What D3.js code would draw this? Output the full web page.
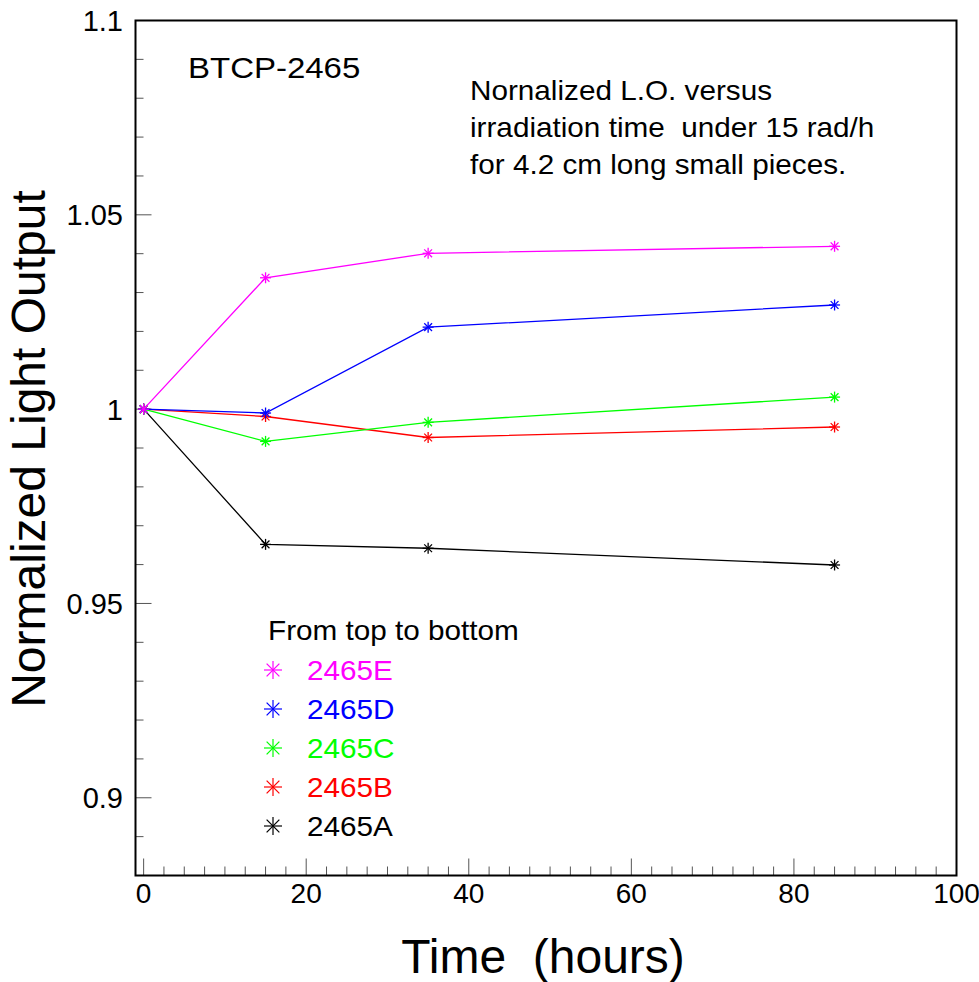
<!DOCTYPE html>
<html>
<head>
<meta charset="utf-8">
<script src="https://cdn.jsdelivr.net/npm/d3@7"></script>
<style>
  html, body { margin: 0; padding: 0; background: #fff; }
  svg { display: block; font-family: "Liberation Sans", Arial, Helvetica, sans-serif; }
  svg text { white-space: pre; }
</style>
</head>
<body>
<svg id="chart" width="979" height="982"></svg>
<script>
// Irradiation times (hours)
const times = [0, 15, 35, 85];

// Normalized light output of each sample
const s2465E = [1.0, 1.0338, 1.0401, 1.0419];
const s2465D = [1.0, 0.9990, 1.0211, 1.0268];
const s2465C = [1.0, 0.9917, 0.9966, 1.0031];
const s2465B = [1.0, 0.9981, 0.9927, 0.9954];
const s2465A = [1.0, 0.9652, 0.9642, 0.9599];

const seriesNames = ["2465A", "2465B", "2465C", "2465D", "2465E"];
const seriesValues = [s2465A, s2465B, s2465C, s2465D, s2465E];
const seriesColors = ["#000000", "#ff0000", "#00ff00", "#0000ff", "#ff00ff"];

// Legend lists samples from top to bottom
const legendOrder = ["2465E", "2465D", "2465C", "2465B", "2465A"];

const xTicks = [0, 20, 40, 60, 80, 100];
const xTickLabels = ["0", "20", "40", "60", "80", "100"];
const yTicks = [0.9, 0.95, 1.0, 1.05, 1.1];
const yTickLabels = ["0.9", "0.95", "1", "1.05", "1.1"];

const titleLines = [
  "Nornalized L.O. versus",
  "irradiation time  under 15 rad/h",
  "for 4.2 cm long small pieces."
];

const svg = d3.select("#chart");

const frame = { left: 135.5, right: 956.5, top: 20.5, bottom: 875.5 };

const x = d3.scaleLinear().domain([-1, 100]).range([frame.left, frame.right]);
const y = d3.scaleLinear().domain([0.88, 1.1]).range([frame.bottom, frame.top]);

// Tick marks (inside the frame, left and bottom only)
const ticks = svg.append("g").attr("stroke", "#555").attr("stroke-width", 1);

const xMinor = d3.range(0, 100.01, 2.5);
ticks.selectAll("line.xm").data(xMinor).enter().append("line")
  .attr("x1", d => x(d)).attr("x2", d => x(d))
  .attr("y1", frame.bottom)
  .attr("y2", d => frame.bottom - (Math.abs(d % 20) < 1e-9 ? 17 : 9));

const yMinor = d3.range(0.88, 1.1001, 0.01).map(v => +v.toFixed(2));
ticks.selectAll("line.ym").data(yMinor).enter().append("line")
  .attr("y1", d => y(d)).attr("y2", d => y(d))
  .attr("x1", frame.left)
  .attr("x2", d => frame.left + (yTicks.some(t => Math.abs(t - d) < 1e-9) ? 16 : 8));

// Frame
svg.append("rect")
  .attr("x", frame.left).attr("y", frame.top)
  .attr("width", frame.right - frame.left).attr("height", frame.bottom - frame.top)
  .attr("fill", "none").attr("stroke", "#000").attr("stroke-width", 2);

// Tick labels
svg.append("g").selectAll("text").data(xTicks).enter().append("text")
  .attr("x", d => x(d)).attr("y", 903)
  .attr("text-anchor", "middle").attr("font-size", 28)
  .text((d, i) => xTickLabels[i]);

svg.append("g").selectAll("text").data(yTicks).enter().append("text")
  .attr("x", 123).attr("y", d => y(d) + 10.5)
  .attr("text-anchor", "end").attr("font-size", 29)
  .text((d, i) => yTickLabels[i]);

// Axis titles
svg.append("text")
  .attr("x", 543).attr("y", 973)
  .attr("text-anchor", "middle").attr("font-size", 48)
  .text("Time  (hours)");

svg.append("text")
  .attr("transform", "translate(45,449) rotate(-90)")
  .attr("text-anchor", "middle").attr("font-size", 48)
  .text("Normalized Light Output");

// Asterisk marker
function star(g, cx, cy, r, color, w) {
  const d = r * Math.SQRT1_2;
  const segs = [[-r, 0, r, 0], [0, -r, 0, r], [-d, -d, d, d], [-d, d, d, -d]];
  const m = g.append("g").attr("stroke", color).attr("stroke-width", w);
  segs.forEach(s => m.append("line")
    .attr("x1", cx + s[0]).attr("y1", cy + s[1])
    .attr("x2", cx + s[2]).attr("y2", cy + s[3]));
}

// Series lines and markers
const line = d3.line().x((d, i) => x(times[i])).y(d => y(d));
const plot = svg.append("g");
seriesValues.forEach((vals, k) => {
  plot.append("path").datum(vals)
    .attr("d", line)
    .attr("fill", "none")
    .attr("stroke", seriesColors[k])
    .attr("stroke-width", 1.3);
  vals.forEach((v, i) => star(plot, x(times[i]), y(v), 5.5, seriesColors[k], 1.3));
});

// Horizontally widened text helper
function wideText(px, py, str, size, color) {
  svg.append("text")
    .attr("transform", `translate(${px},${py}) scale(1.1,1)`)
    .attr("font-size", size)
    .attr("fill", color || "#000")
    .text(str);
}

wideText(188, 78, "BTCP-2465", 30);
titleLines.forEach((t, i) => wideText(470, 100 + i * 37, t, 27));

// Legend
wideText(268, 640, "From top to bottom", 27);
legendOrder.forEach((name, i) => {
  const k = seriesNames.indexOf(name);
  const base = 680 + i * 39;
  star(svg, 273, base - 10, 9, seriesColors[k], 1.2);
  wideText(307, base, name, 27, seriesColors[k]);
});
</script>
</body>
</html>
